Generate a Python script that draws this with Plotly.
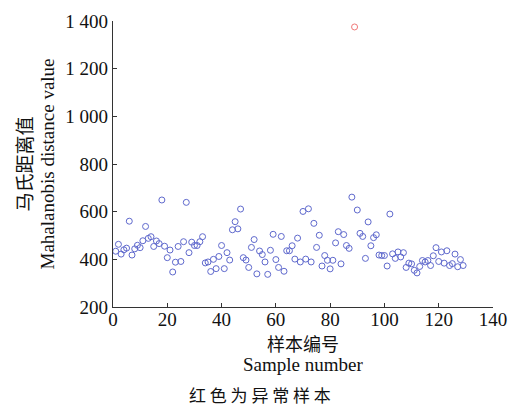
import plotly.graph_objects as go

# Mahalanobis distance for each sample (sample 89 is the anomaly)
sample_ids = list(range(1, 130))
distances = [
    434, 463, 422, 440, 447, 560, 418, 444, 459, 449,
    478, 538, 488, 495, 454, 477, 466, 649, 455, 407,
    439, 347, 388, 454, 391, 474, 639, 428, 472, 458,
    458, 474, 495, 385, 389, 349, 400, 361, 412, 458,
    361, 428, 397, 524, 558, 528, 611, 407, 397, 366,
    450, 483, 339, 435, 420, 389, 337, 438, 505, 399,
    366, 496, 350, 436, 436, 457, 401, 489, 389, 601,
    401, 612, 389, 551, 450, 501, 372, 416, 396, 360,
    396, 469, 516, 381, 504, 458, 446, 661, 1375, 607,
    509, 496, 404, 557, 457, 491, 503, 418, 416, 416,
    372, 590, 423, 404, 431, 410, 428, 366, 384, 381,
    354, 343, 370, 395, 389, 395, 374, 415, 449, 391,
    431, 384, 436, 374, 382, 422, 369, 399, 374,
]
anomaly_ids = [89]

y_ticks = [200, 400, 600, 800, 1000, 1200, 1400]
y_tick_text = ["200", "400", "600", "800", "1 000", "1 200", "1 400"]
x_ticks = [0, 20, 40, 60, 80, 100, 120, 140]

normal_x = [s for s in sample_ids if s not in anomaly_ids]
normal_y = [d for s, d in zip(sample_ids, distances) if s not in anomaly_ids]
anom_x = [s for s in sample_ids if s in anomaly_ids]
anom_y = [d for s, d in zip(sample_ids, distances) if s in anomaly_ids]

SERIF = "Liberation Serif, Times New Roman, Noto Sans CJK SC, serif"
CJK = "Noto Sans CJK SC, Liberation Serif, serif"

fig = go.Figure()
fig.add_trace(go.Scatter(
    x=normal_x, y=normal_y, mode="markers",
    marker=dict(symbol="circle-open", size=6, color="rgb(95,105,205)",
                line=dict(width=1)),
    showlegend=False,
))
fig.add_trace(go.Scatter(
    x=anom_x, y=anom_y, mode="markers",
    marker=dict(symbol="circle-open", size=6, color="rgb(240,120,120)",
                line=dict(width=1)),
    showlegend=False,
))

axis_common = dict(
    showgrid=False, zeroline=False, showline=True,
    linecolor="#333", linewidth=1.2,
    ticks="inside", ticklen=4, tickwidth=1, tickcolor="#333",
    tickfont=dict(family=SERIF, size=19, color="#111"),
)
fig.update_xaxes(range=[0, 140], tickvals=x_ticks, ticklabelstandoff=-5,
                 **axis_common)
fig.update_yaxes(range=[200, 1400], tickvals=y_ticks, ticktext=y_tick_text,
                 **axis_common)

annotations = [
    dict(text="马氏距离值", x=-0.238, y=0.5, textangle=-90,
         font=dict(family=CJK, size=19, color="#111")),
    dict(text="Mahalanobis distance value", x=-0.175, y=0.5, textangle=-90,
         font=dict(family=SERIF, size=19, color="#111")),
    dict(text="样本编号", x=0.5, y=-0.125,
         font=dict(family=CJK, size=18, color="#111")),
    dict(text="Sample number", x=0.5, y=-0.201,
         font=dict(family=SERIF, size=19, color="#111")),
    dict(text="红 色 为 异 常 样 本", x=0.387, y=-0.307,
         font=dict(family=CJK, size=17, color="#111")),
]
for a in annotations:
    a.update(xref="paper", yref="paper", showarrow=False,
             xanchor="center", yanchor="middle")

fig.update_layout(
    width=519, height=412,
    margin=dict(l=113, r=26, t=11, b=105),
    paper_bgcolor="white", plot_bgcolor="white",
    annotations=annotations,
)

fig.write_html("out.html")
